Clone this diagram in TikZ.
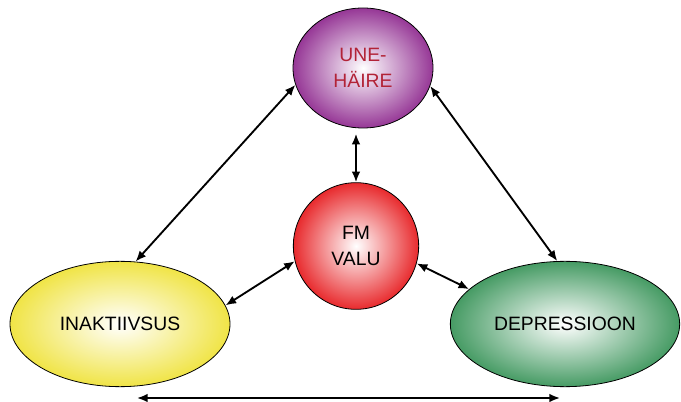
\documentclass[tikz,border=0pt]{standalone}
\usepackage{fontspec}
\setmainfont{Liberation Sans}
\usepackage{xcolor}
\usetikzlibrary{shapes,arrows.meta}

\definecolor{sleepcol}{RGB}{150,55,150}
\definecolor{paincol}{RGB}{232,42,45}
\definecolor{idlecol}{RGB}{240,228,70}
\definecolor{moodcol}{RGB}{70,155,100}
\definecolor{sleeptext}{RGB}{178,35,55}

\begin{document}
\begin{tikzpicture}[
    x=0.75pt, y=-0.75pt,
    bubble/.style={ellipse, draw, line width=0.6pt, inner sep=0pt, inner color=white, outer color=#1, align=center, font=\fontsize{14.5}{19}\selectfont},
    link/.style={{Latex[length=8pt,width=6.5pt]}-{Latex[length=8pt,width=6.5pt]}, line width=1.4pt}
]
    \useasboundingbox (0,0) rectangle (681,402);

    % Bubbles
    \node[bubble=sleepcol, minimum width=105pt, minimum height=90pt, text=sleeptext] (une) at (363,68) {UNE-\\HÄIRE};
    \node[bubble=paincol, minimum width=94pt, minimum height=95pt] (valu) at (356,246) {FM\\VALU};
    \node[bubble=idlecol, minimum width=165pt, minimum height=94pt] (inak) at (120,324) {INAKTIIVSUS};
    \node[bubble=moodcol, minimum width=172pt, minimum height=94pt] (dep) at (565,324) {DEPRESSIOON};

    % Ends of the bottom arrow
    \coordinate (low-w) at (137,398);
    \coordinate (low-e) at (560,398);

    % Arrows
    \draw[link] (une.194) -- (inak.76);
    \draw[link] (une.-15) -- (dep.97);
    \draw[link, shorten <=4pt] (valu.north |- une.south) -- (valu.north);
    \draw[link] (valu.194) -- (inak.10);
    \draw[link] (valu.-16) -- (dep.160);
    \draw[link] (low-w) -- (low-e);
\end{tikzpicture}
\end{document}
